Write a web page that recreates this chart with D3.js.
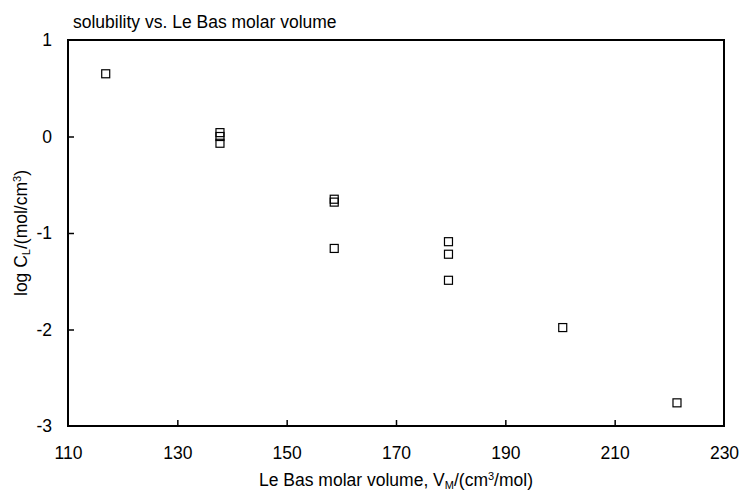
<!DOCTYPE html>
<html>
<head>
<meta charset="utf-8">
<script src="https://cdn.jsdelivr.net/npm/d3@7"></script>
<style>
  html, body { margin: 0; padding: 0; background: #fff; }
  svg { display: block; font-family: "Liberation Sans", Arial, sans-serif; }
</style>
</head>
<body>
<svg id="chart" width="742" height="498"></svg>
<script>
// Le Bas molar volume of each compound (cm3/mol)
const volumes = [116.9, 137.8, 137.8, 137.8, 158.7, 158.7, 158.7, 179.6, 179.6, 179.6, 200.5, 221.4];
// log of liquid solubility
const logSolubility = [0.65, 0.04, 0.0, -0.07, -0.65, -0.68, -1.16, -1.09, -1.22, -1.49, -1.98, -2.76];
const xTicks = [110, 130, 150, 170, 190, 210, 230];
const yTicks = [1, 0, -1, -2, -3];
const titleText = "solubility vs. Le Bas molar volume";

const FONT = 17.5;
const svg = d3.select("#chart");
const m = { left: 68, right: 724, top: 40, bottom: 426 };

const x = d3.scaleLinear().domain([110, 230]).range([m.left, m.right]);
const y = d3.scaleLinear().domain([-3, 1]).range([m.bottom, m.top]);

// bottom axis: labels outside, tick marks pointing into the plot
const xAxis = svg.append("g")
  .attr("transform", `translate(0,${m.bottom})`)
  .call(d3.axisBottom(x).tickValues(xTicks).tickFormat(d => String(d))
    .tickSizeInner(-6).tickSizeOuter(0).tickPadding(21));
xAxis.select(".domain").remove();
xAxis.selectAll(".tick line").attr("stroke", "#000").attr("stroke-width", 1.5)
  .filter(d => d === 110 || d === 230).remove();
xAxis.selectAll(".tick text").attr("font-size", FONT).attr("fill", "#000")
  .attr("font-family", "Liberation Sans, Arial, sans-serif");

// left axis, plain hyphen for negative values
const yAxis = svg.append("g")
  .attr("transform", `translate(${m.left},0)`)
  .call(d3.axisLeft(y).tickValues(yTicks).tickFormat(d => String(d))
    .tickSizeInner(-6).tickSizeOuter(0).tickPadding(16));
yAxis.select(".domain").remove();
yAxis.selectAll(".tick line").attr("stroke", "#000").attr("stroke-width", 1.5)
  .filter(d => d === 1 || d === -3).remove();
yAxis.selectAll(".tick text").attr("font-size", FONT).attr("fill", "#000")
  .attr("font-family", "Liberation Sans, Arial, sans-serif");

// plot frame
svg.append("rect")
  .attr("x", m.left).attr("y", m.top)
  .attr("width", m.right - m.left).attr("height", m.bottom - m.top)
  .attr("fill", "none").attr("stroke", "#000").attr("stroke-width", 2);

// open square markers
const size = 8;
svg.append("g").selectAll("rect")
  .data(volumes.map((v, i) => [v, logSolubility[i]]))
  .join("rect")
  .attr("x", d => x(d[0]) - size / 2)
  .attr("y", d => y(d[1]) - size / 2)
  .attr("width", size).attr("height", size)
  .attr("fill", "none").attr("stroke", "#000").attr("stroke-width", 1.2);

// title
svg.append("text")
  .attr("x", 73).attr("y", 28)
  .attr("font-size", FONT).attr("fill", "#000")
  .text(titleText);

// x-axis title with subscript/superscript
const xt = svg.append("text")
  .attr("x", (m.left + m.right) / 2).attr("y", 486)
  .attr("text-anchor", "middle").attr("font-size", FONT).attr("fill", "#000");
xt.append("tspan").text("Le Bas molar volume, V");
xt.append("tspan").attr("baseline-shift", "-3").attr("font-size", 11).text("M");
xt.append("tspan").text("/(cm");
xt.append("tspan").attr("baseline-shift", "6").attr("font-size", 11).text("3");
xt.append("tspan").text("/mol)");

// y-axis title, rotated
const yt = svg.append("text")
  .attr("transform", `translate(27,${(m.top + m.bottom) / 2}) rotate(-90)`)
  .attr("text-anchor", "middle").attr("font-size", FONT).attr("fill", "#000");
yt.append("tspan").text("log C");
yt.append("tspan").attr("baseline-shift", "-3").attr("font-size", 11).text("L");
yt.append("tspan").text("/(mol/cm");
yt.append("tspan").attr("baseline-shift", "6").attr("font-size", 11).text("3");
yt.append("tspan").text(")");
</script>
</body>
</html>
